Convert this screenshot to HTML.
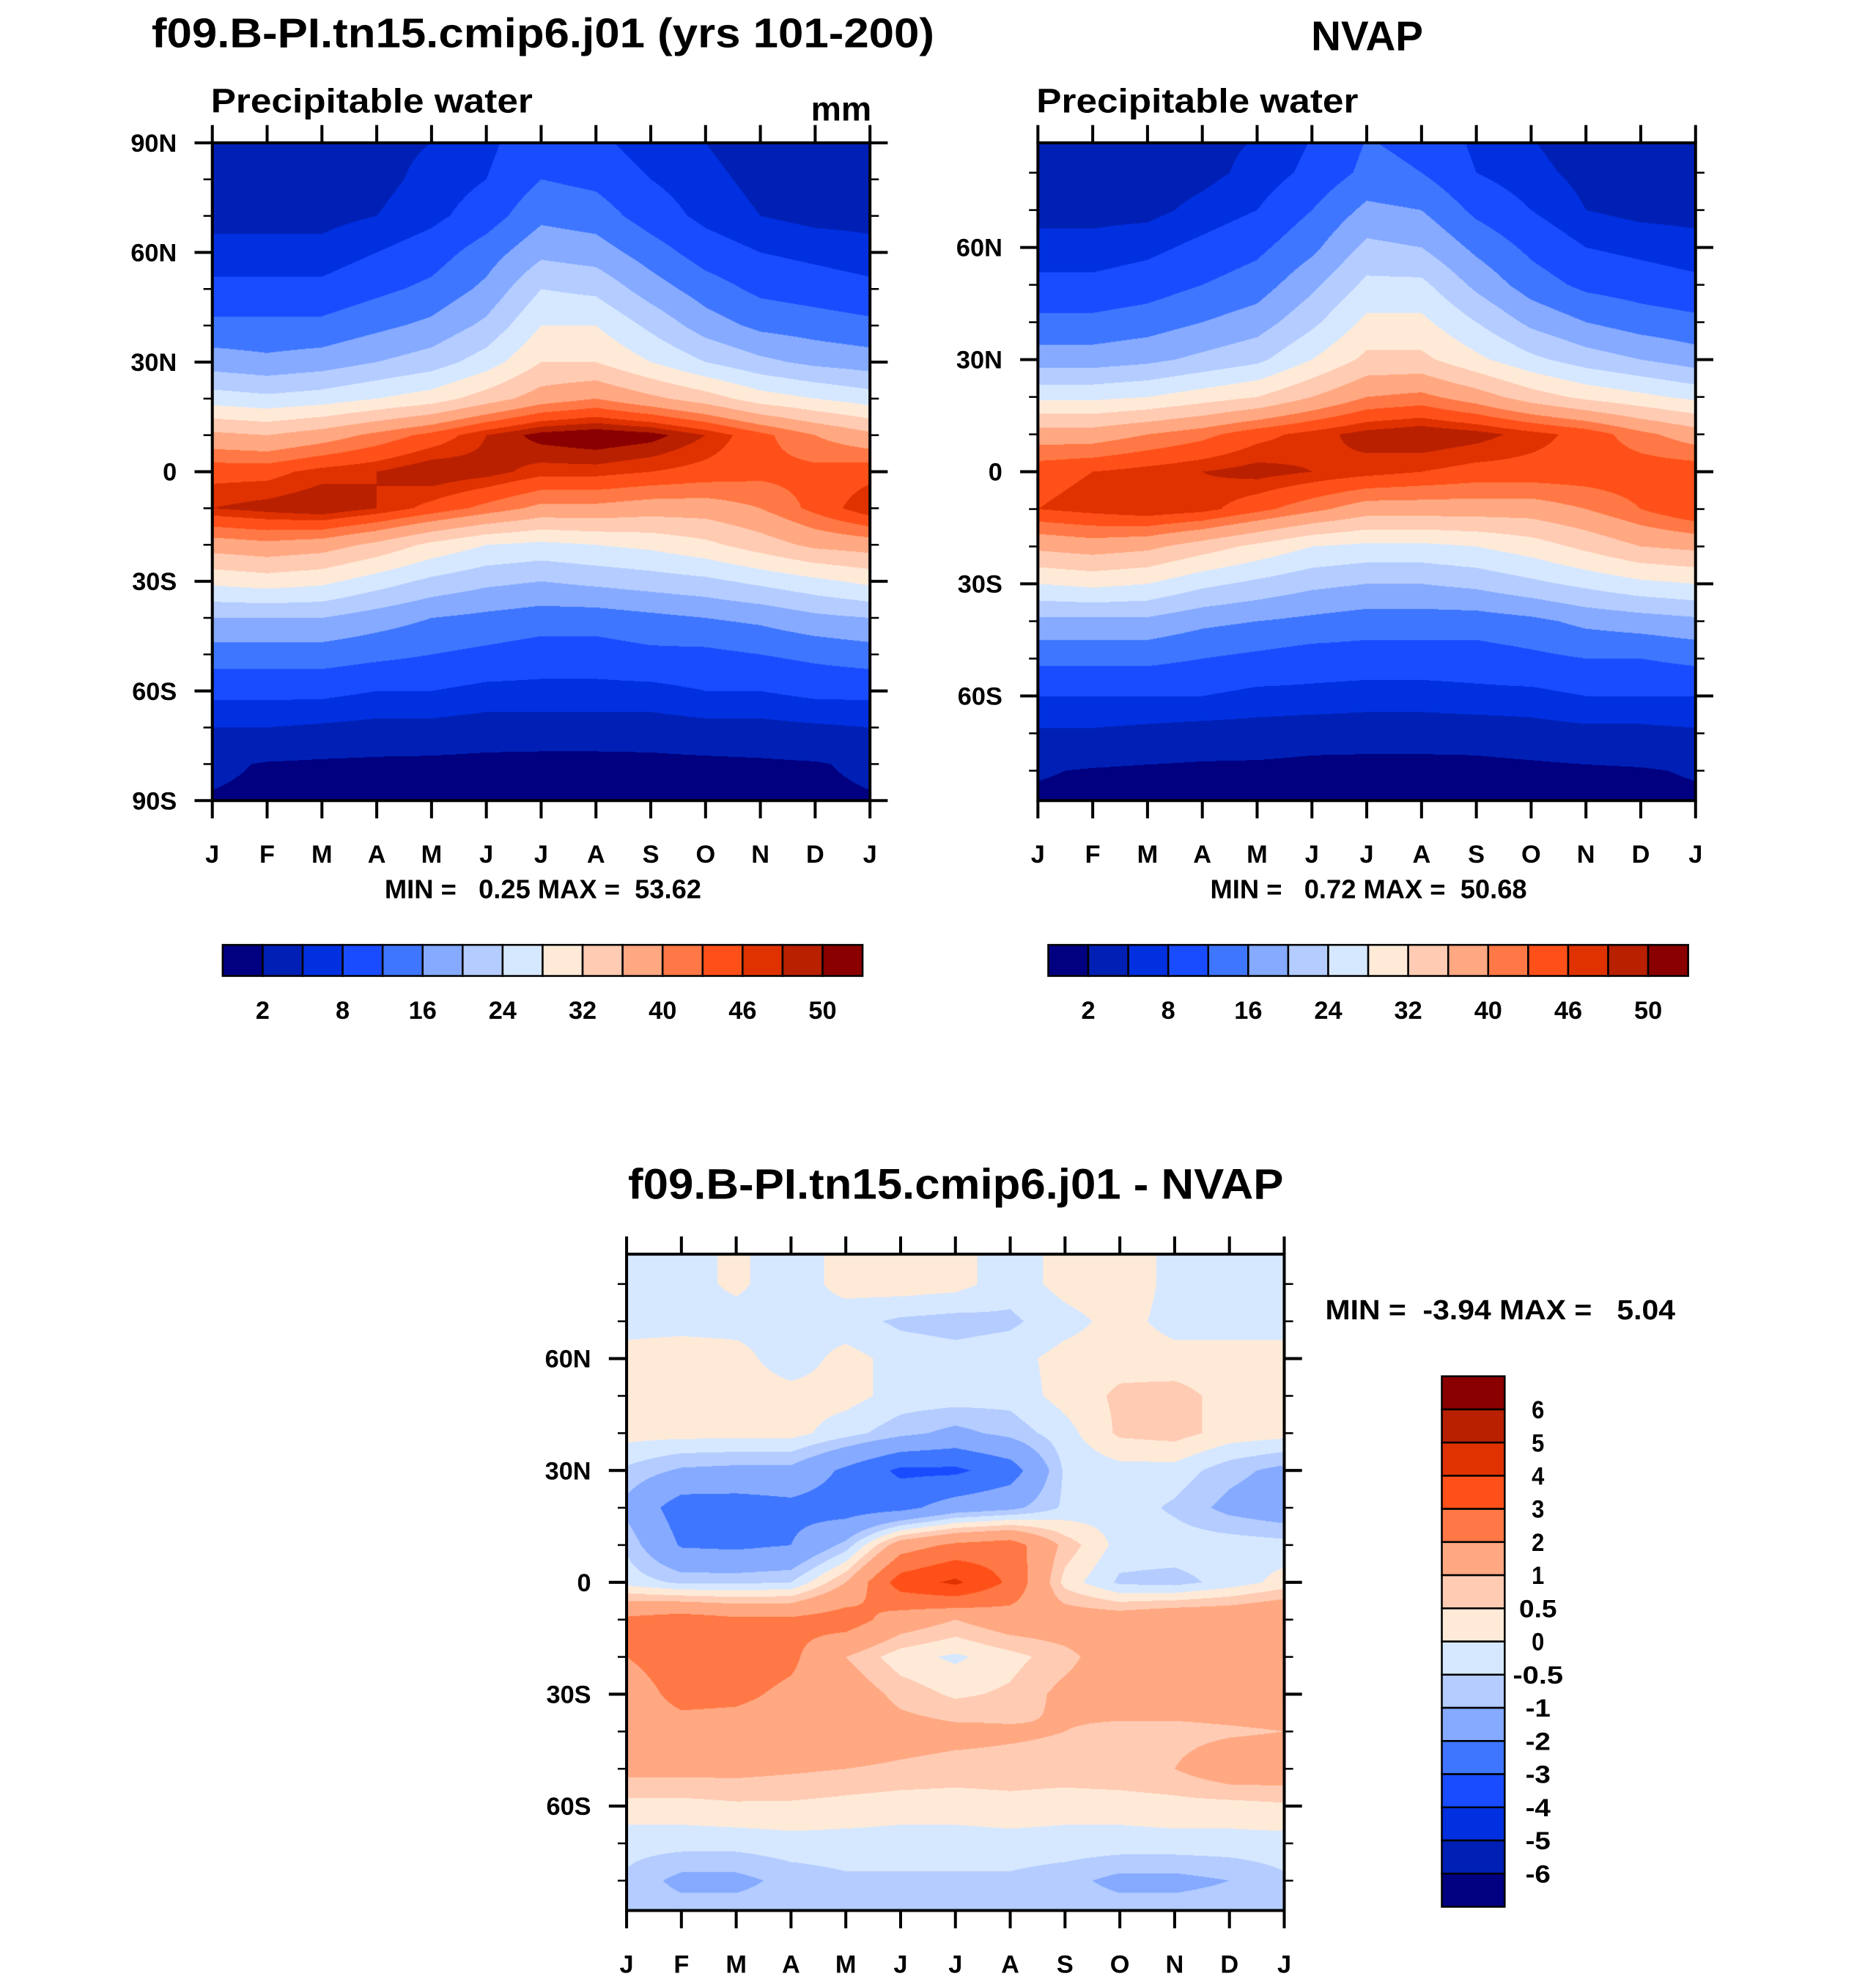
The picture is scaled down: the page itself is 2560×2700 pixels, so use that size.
<!DOCTYPE html>
<html><head><meta charset="utf-8">
<style>
html,body{margin:0;padding:0;background:#fff;overflow:hidden;}
#wrap{position:relative;width:2560px;height:2700px;overflow:hidden;}
#inner{position:absolute;left:0;top:0;width:2560px;height:2700px;transform:scale(1.0095);transform-origin:0 0;}
canvas{position:absolute;}
svg{position:absolute;left:0;top:0;}
text{font-family:"Liberation Sans",sans-serif;font-weight:bold;fill:#000;white-space:pre;}
</style></head>
<body>
<div id="wrap">
<div id="inner">
<canvas id="c1"></canvas>
<canvas id="c2"></canvas>
<canvas id="c3"></canvas>
<svg id="ov" width="2560" height="2700"></svg>
</div>
</div>
<script>
// ===== DATA =====
const months = ["J","F","M","A","M","J","J","A","S","O","N","D","J"];
const lats = [90,80,70,60,50,40,30,20,10,0,-10,-20,-30,-40,-50,-60,-70,-80,-90];
const pwLevels = [2,5,8,12,16,20,24,28,32,36,40,43,46,48,50];
const pwLabels = ["2","8","16","24","32","40","46","50"];
const diffLevels = [-6,-5,-4,-3,-2,-1,-0.5,0,0.5,1,2,3,4,5,6];
const diffLabels = ["6","5","4","3","2","1","0.5","0","-0.5","-1","-2","-3","-4","-5","-6"];
const palette = ["#000080","#0020b5","#0030e0","#1a4cff","#3f76ff","#85aaff","#b4ccff","#d6e8ff","#ffead8","#ffcbb3","#ffa882","#ff7845","#ff5019","#e03200","#b82000","#8a0000"];
const modelPW = [
[3,3,3,4,5,7,11,9,6,5,3,3,3],
[3,3,3,4,6,8,12,11,8,6,4,3,3],
[4,4,4,5,7,10,15,14,10,7,5,4,4],
[6,6,6,8,10,14,19,18,14,10,8,7,6],
[9,9,9,11,13,17,24,23,18,14,11,10,9],
[13,13,13,15,17,21,28,28,23,18,15,14,13],
[18,17,18,20,22,26,32,32,28,24,21,19,18],
[26,25,26,28,30,34,38,40,37,34,30,28,26],
[37,36,38,41,44,48,51,52,51,48,44,40,37],
[45,45,47,48,50,49,47,47,46,45,44,44,45],
[48,49,50,48,45,42,39,39,38,38,40,44,48],
[38,39,38,35,31,28,27,28,29,31,34,37,38],
[29,30,29,26,23,21,20,21,22,23,25,27,29],
[20,20,20,18,16,15,14,14,15,16,17,19,20],
[14,14,14,13,12,11,10,10,11,11,12,13,14],
[9,9,9,8,8,7,7,7,7,8,8,9,9],
[5,5,4.5,4,4,3.5,3.5,3.5,3.5,4,4,4.5,5],
[2.5,1.8,1.6,1.5,1.4,1.3,1.2,1.2,1.3,1.4,1.6,1.8,2.5],
[1.8,1.5,1.3,1.2,1.1,1,0.9,0.9,1,1.1,1.3,1.5,1.8]];
const nvapPW = [
[3,3,3,4,5,8,12,11,7,5,3,3,3],
[3,3,3,4,6,9,13,12,8,6,4,3,3],
[4,4,4,6,8,12,17,16,11,8,5,4,4],
[6,6,7,9,11,15,21,20,15,11,8,7,6],
[9,9,10,12,14,19,25,25,19,14,11,10,9],
[13,13,14,16,18,23,29,29,24,19,16,14,13],
[18,18,19,21,23,28,33,33,29,25,22,20,18],
[27,27,28,30,32,36,40,41,38,34,31,29,27],
[38,38,40,42,45,47,49,50,49,47,45,41,38],
[45,46,47,48,49,48,47,46,45,45,45,45,45],
[46,47,48,47,44,41,38,38,38,38,40,43,46],
[37,38,37,34,31,28,27,27,28,30,33,36,37],
[28,29,28,25,23,21,20,20,21,23,25,27,28],
[19,19,19,17,16,15,14,14,14,15,17,18,19],
[13,13,13,12,11,10,10,10,10,11,12,12,13],
[8,8,8,8,7,7,6.5,6.5,7,7,8,8,8],
[4.5,4.5,4,3.5,3.5,3,3,3,3,3.5,4,4,4.5],
[2.2,1.8,1.6,1.5,1.4,1.3,1.2,1.2,1.3,1.4,1.6,1.8,2.2],
[1.5,1.3,1.2,1.1,1,0.9,0.8,0.8,0.9,1,1.2,1.3,1.5]];
const diffPW = [
[-0.2,-0.2,0.1,-0.3,0.2,0.3,0.2,-0.3,0.2,0.4,-0.2,-0.2,-0.2],
[-0.2,-0.2,0.1,-0.3,0.2,0.3,0.2,-0.3,0.2,0.4,-0.2,-0.2,-0.2],
[-0.2,-0.2,-0.2,-0.2,-0.3,-0.6,-0.7,-0.6,-0.2,0.2,-0.2,-0.2,-0.2],
[0.2,0.3,0.2,-0.3,0.2,-0.2,-0.3,-0.2,0.2,0.3,0.2,0.2,0.2],
[0.2,0.2,0.3,0.2,0.2,-0.2,-0.2,-0.3,0.2,0.6,0.7,0.3,0.2],
[0.2,0.2,0.2,0.2,-0.3,-0.8,-1.2,-0.8,-0.2,0.6,0.7,0.3,0.2],
[-0.6,-1.1,-1.2,-1.2,-2.2,-3.2,-3.2,-2.5,-0.4,-0.2,-0.2,-0.8,-1.2],
[-1.2,-2.5,-2.5,-2.3,-2.5,-2.3,-1.5,-1.2,-0.4,-0.2,-0.6,-1.2,-1.5],
[-0.6,-2.1,-2.2,-2,-0.8,1.5,2.2,2.5,0.8,-0.2,-0.2,-0.2,-0.3],
[-0.2,-0.6,-0.6,-0.5,1,3.5,4.2,2.8,0.3,-0.6,-0.7,-0.3,0.2],
[2.2,2.5,2.2,2.2,2.5,1.5,1,1.5,1.5,1.5,1.8,1.8,2],
[2,2.5,2.5,2.2,1,0.2,-0.1,0.3,0.8,1.5,1.5,1.5,1.8],
[1.5,2.3,2.2,1.8,1.5,0.8,0.4,0.6,1.2,1.5,1.5,1.5,1.5],
[1.5,1.6,1.6,1.5,1.5,1.3,1.2,1.1,1,0.8,0.8,0.9,1],
[1.2,1.2,1.2,1.1,1,0.9,0.8,0.8,0.8,0.9,1,1.5,1.5],
[0.3,0.3,0.4,0.4,0.3,0.2,0.2,0.3,0.2,0.2,0.3,0.3,0.4],
[-0.3,-0.3,-0.3,-0.2,-0.2,-0.2,-0.2,-0.2,-0.2,-0.2,-0.2,-0.2,-0.2],
[-0.6,-1.2,-1.2,-0.8,-0.6,-0.6,-0.6,-0.6,-0.8,-1.2,-1.2,-1,-0.6],
[-0.6,-0.6,-0.6,-0.6,-0.6,-0.6,-0.6,-0.6,-0.6,-0.6,-0.6,-0.6,-0.6]];

// ===== RENDER =====
const NS="http://www.w3.org/2000/svg";
const ov=document.getElementById('ov');
function el(tag,attrs,parent){const e=document.createElementNS(NS,tag);for(const k in attrs)e.setAttribute(k,attrs[k]);(parent||ov).appendChild(e);return e;}
function txt(s,x,y,size,anchor,extra){const t=el('text',Object.assign({x:x,y:y,'font-size':size,'text-anchor':anchor||'start'},extra||{}));t.textContent=s;return t;}
function levelIndex(v,levels){let i=0;while(i<levels.length&&v>=levels[i])i++;return i;}
function sample(grid,m,lat){
  const r=(90-lat)/10, r0=Math.max(0,Math.min(17,Math.floor(r))), fr=Math.min(1,Math.max(0,r-r0));
  const c0=Math.max(0,Math.min(11,Math.floor(m))), fc=Math.min(1,Math.max(0,m-c0));
  const a=grid[r0][c0],b=grid[r0][c0+1],c=grid[r0+1][c0],d=grid[r0+1][c0+1];
  return (a*(1-fc)+b*fc)*(1-fr)+(c*(1-fc)+d*fc)*fr;
}
function hex(h){return [parseInt(h.substr(1,2),16),parseInt(h.substr(3,2),16),parseInt(h.substr(5,2),16)];}
const rgb=palette.map(hex);
function drawField(id,grid,levels,g){
  const cv=document.getElementById(id);const w=g.x1-g.x0,h=g.y1-g.y0;
  cv.width=w;cv.height=h;cv.style.left=g.x0+'px';cv.style.top=g.y0+'px';
  const ctx=cv.getContext('2d');const img=ctx.createImageData(w,h);
  for(let y=0;y<h;y++){const lat=g.latTop-(y+0.5)/h*(g.latTop-g.latBot);
    for(let x=0;x<w;x++){const m=(x+0.5)/w*12;const v=sample(grid,m,lat);
      const c=rgb[levelIndex(v,levels)];const p=(y*w+x)*4;
      img.data[p]=c[0];img.data[p+1]=c[1];img.data[p+2]=c[2];img.data[p+3]=255;}}
  ctx.putImageData(img,0,0);
}
function yScale(g,lat){return g.y0+(g.latTop-lat)/(g.latTop-g.latBot)*(g.y1-g.y0);}
function xScale(g,m){return g.x0+m/12*(g.x1-g.x0);}
function axes(g,name,majors,fs){
  const grp=el('g',{});
  
  
  el('rect',{x:g.x0,y:g.y0,width:g.x1-g.x0,height:g.y1-g.y0,fill:'none',stroke:'#000','stroke-width':4},grp);
  for(let i=0;i<=12;i++){const x=xScale(g,i);
    el('line',{x1:x,x2:x,y1:g.y0,y2:g.y0-24,stroke:'#000','stroke-width':4},grp);
    el('line',{x1:x,x2:x,y1:g.y1,y2:g.y1+24,stroke:'#000','stroke-width':4},grp);
    const t=txt(months[i],x,g.y1+84,fs,'middle');
    
    }
  for(let lat=-90;lat<=90;lat+=10){if(lat>g.latTop||lat<g.latBot)continue;const y=yScale(g,lat);
    const major=majors.indexOf(lat)>=0;const L=major?24:12;
    el('line',{x1:g.x0,x2:g.x0-L,y1:y,y2:y,stroke:'#000','stroke-width':major?4:2.5},grp);
    el('line',{x1:g.x1,x2:g.x1+L,y1:y,y2:y,stroke:'#000','stroke-width':major?4:2.5},grp);
    if(major){const s=lat===0?'0':Math.abs(lat)+(lat>0?'N':'S');
      const t=txt(s,g.x0-48,y+12,fs,'end');
      
      }}
}
function hbar(x0,y0,w,h,name,fs){
  const grp=el('g',{});
  
  
  const bw=w/16;
  for(let i=0;i<16;i++)el('rect',{x:x0+i*bw,y:y0,width:bw,height:h,fill:palette[i],stroke:'#000','stroke-width':2.5},grp);
  pwLabels.forEach((s,k)=>{txt(s,x0+(2*k+1)*bw,y0+h+58,fs,'middle');});
}
const G1={x0:287,x1:1176,y0:193,y1:1082,latTop:90,latBot:-90};
const G2={x0:1403,x1:2292,y0:193,y1:1082,latTop:88,latBot:-88};
const G3={x0:847,x1:1736,y0:1695,y1:2582,latTop:88,latBot:-88};
drawField('c1',modelPW,pwLevels,G1);
drawField('c2',nvapPW,pwLevels,G2);
drawField('c3',diffPW,diffLevels,G3);
axes(G1,'model',[90,60,30,0,-30,-60,-90],34);
axes(G2,'nvap',[60,30,0,-30,-60],34);
axes(G3,'difference',[60,30,0,-30,-60],34);

let t;
t=txt('f09.B-PI.tn15.cmip6.j01 (yrs 101-200)',734,64,56,'middle',{textLength:1058,lengthAdjust:'spacingAndGlyphs'});

t=txt('NVAP',1848,68,56,'middle');

t=txt('Precipitable water',285,152,46,'start',{textLength:435,lengthAdjust:'spacingAndGlyphs'});

t=txt('mm',1178,163,46,'end');

t=txt('Precipitable water',1401,152,46,'start',{textLength:435,lengthAdjust:'spacingAndGlyphs'});

t=txt('MIN =   0.25 MAX =  53.62',734,1214,36,'middle');

t=txt('MIN =   0.72 MAX =  50.68',1850,1214,36,'middle');

hbar(301,1277,865,42,'model-colorbar',34);
hbar(1417,1277,865,42,'nvap-colorbar',34);
t=txt('f09.B-PI.tn15.cmip6.j01 - NVAP',1292,1620,58,'middle',{textLength:886,lengthAdjust:'spacingAndGlyphs'});

t=txt('MIN =  -3.94 MAX =   5.04',2028,1783,38,'middle',{textLength:473,lengthAdjust:'spacingAndGlyphs'});

// vertical colorbar
const vg=el('g',{});


const vx=1949,vy=1860,vw=85,vh=717,bh=vh/16;
for(let i=0;i<16;i++)el('rect',{x:vx,y:vy+i*bh,width:vw,height:bh,fill:palette[15-i],stroke:'#000','stroke-width':2.5},vg);
diffLabels.forEach((s,k)=>{txt(s,2079,vy+(k+1)*bh+12,34,'middle',{textLength:s.length*17,lengthAdjust:'spacingAndGlyphs'});});
</script>
</body></html>
